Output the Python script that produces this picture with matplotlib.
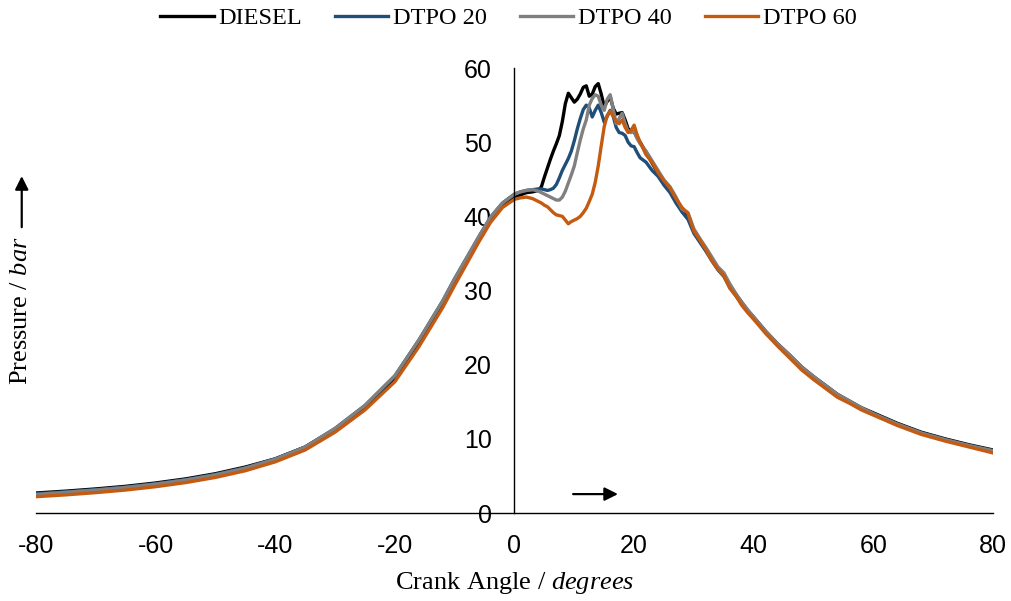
import matplotlib
matplotlib.use("Agg")
import matplotlib.pyplot as plt

plt.rcParams['mathtext.fontset'] = 'custom'
plt.rcParams['mathtext.rm'] = 'Liberation Serif'
plt.rcParams['mathtext.it'] = 'Liberation Serif:italic'
plt.rcParams['axes.unicode_minus'] = False

angle = [-80, -75, -70, -65, -60, -55, -50, -45, -40, -35, -30, -25, -20, -16, -12, -10, -8, -6, -4, -2,
         0, 1, 2, 3, 4, 4.5, 5, 5.5, 6, 6.5, 7, 7.5, 8, 8.5, 9, 9.5, 10, 10.5, 11, 11.5, 12, 12.5, 13, 13.5,
         14, 14.5, 15, 15.5, 16, 16.5, 17, 17.5, 18, 18.5, 19, 19.5, 20, 20.5, 21,
         22, 23, 24, 25, 26, 27, 28, 29, 30, 31, 32, 33, 34, 35, 36, 37, 38, 39, 40,
         42, 44, 46, 48, 50, 52, 54, 56, 58, 60, 64, 68, 72, 76, 80]

diesel = [2.7, 2.95, 3.25, 3.6, 4.05, 4.6, 5.3, 6.2, 7.3, 8.9, 11.3, 14.3, 18.2, 22.9, 28.2, 31.2, 34.1, 37.0, 39.6, 41.5,
          42.5, 42.9, 43.2, 43.3, 43.5, 44.0, 45.3, 46.5, 47.7, 48.8, 49.8, 50.9, 52.8, 55.2, 56.6, 56.0, 55.4, 55.8,
          56.5, 57.4, 57.6, 56.2, 56.5, 57.5, 57.9, 56.5, 54.8, 55.5, 56.1, 54.6, 53.8, 53.9, 54.0, 53.0, 51.8, 51.5,
          51.4, 50.6, 50.0,
          48.6, 47.2, 45.8, 44.6, 43.6, 42.2, 40.7, 39.9, 38.0, 36.8, 35.6, 34.3, 33.0, 32.1, 30.7, 29.5, 28.4, 27.3, 26.4,
          24.5, 22.8, 21.3, 19.7, 18.4, 17.2, 16.0, 15.1, 14.2, 13.5, 12.1, 10.9, 10.0, 9.2, 8.5]

dtpo20 = [2.6, 2.85, 3.15, 3.5, 3.95, 4.5, 5.2, 6.1, 7.3, 8.9, 11.4, 14.5, 18.5, 23.3, 28.6, 31.6, 34.4, 37.2, 39.9, 41.8,
          43.0, 43.3, 43.5, 43.6, 43.7, 43.7, 43.6, 43.5, 43.6, 43.8, 44.3, 45.2, 46.2, 47.0, 47.8, 48.8, 50.2, 51.8,
          53.2, 54.4, 55.0, 54.6, 53.4, 54.3, 55.0, 54.0, 52.7, 53.5, 54.3, 53.5, 52.0, 51.3, 51.2, 50.9, 50.0, 49.5,
          49.4, 48.6, 47.9,
          47.3, 46.2, 45.4, 44.2, 43.2, 41.8, 40.6, 39.6, 37.7, 36.5, 35.3, 34.0, 32.8, 31.9, 30.4, 29.3, 28.2, 27.2, 26.3,
          24.4, 22.7, 21.2, 19.6, 18.3, 17.1, 15.9, 15.0, 14.1, 13.4, 12.0, 10.8, 9.9, 9.1, 8.4]

dtpo40 = [2.5, 2.8, 3.1, 3.45, 3.9, 4.45, 5.15, 6.05, 7.25, 8.9, 11.4, 14.5, 18.5, 23.3, 28.6, 31.6, 34.4, 37.2, 39.9, 41.8,
          43.0, 43.3, 43.5, 43.6, 43.4, 43.2, 43.0, 42.8, 42.6, 42.4, 42.2, 42.2, 42.6, 43.4, 44.5, 45.6, 46.8, 48.6,
          50.3, 51.8, 53.0, 55.0, 55.9, 56.4, 56.2, 55.0, 54.3, 55.8, 56.4, 54.5, 52.5, 53.2, 53.9, 52.5, 51.5, 51.3,
          51.5, 50.5, 49.8,
          48.8, 47.5, 46.2, 44.9, 44.0, 42.6, 41.0, 40.5, 38.3, 37.0, 35.8, 34.5, 33.2, 32.4, 30.9, 29.6, 28.4, 27.4, 26.4,
          24.5, 22.8, 21.3, 19.7, 18.4, 17.2, 16.0, 15.1, 14.2, 13.4, 12.0, 10.8, 9.9, 9.1, 8.4]

dtpo60 = [2.2, 2.45, 2.75, 3.1, 3.55, 4.1, 4.8, 5.7, 6.9, 8.5, 10.9, 13.9, 17.7, 22.4, 27.7, 30.7, 33.6, 36.5, 39.2, 41.2,
          42.3, 42.5, 42.6, 42.4, 42.0, 41.8, 41.5, 41.3, 40.9, 40.5, 40.2, 40.1, 40.0, 39.5, 39.0, 39.3, 39.5, 39.7,
          40.0, 40.5, 41.1, 42.0, 43.0, 44.6, 46.8, 49.5, 52.1, 53.6, 54.2, 53.5, 52.8, 52.5, 53.0, 52.0, 51.3, 51.6,
          52.3, 51.0, 50.0,
          48.3, 47.3, 45.9, 44.8, 43.8, 42.4, 41.2, 40.4, 38.0, 36.8, 35.5, 34.0, 32.9, 32.0, 30.3, 29.3, 28.0, 27.0, 26.1,
          24.2, 22.5, 20.9, 19.3, 18.0, 16.8, 15.6, 14.8, 13.9, 13.2, 11.8, 10.6, 9.7, 8.9, 8.1]

series_names = ['DIESEL', 'DTPO 20', 'DTPO 40', 'DTPO 60']
series_colors = ['#000000', '#1F4E79', '#808080', '#C55A11']
series_values = [diesel, dtpo20, dtpo40, dtpo60]

x_ticks = [-80, -60, -40, -20, 0, 20, 40, 60, 80]
y_ticks = [0, 10, 20, 30, 40, 50, 60]

fig = plt.figure(figsize=(10.11, 6.01), dpi=100)
ax = fig.add_axes([0.0356, 0.1464, 0.9466, 0.7404])

for name, col, vals in zip(series_names, series_colors, series_values):
    assert len(vals) == len(angle)
    ax.plot(angle, vals, color=col, lw=2.4, label=name, solid_joinstyle='round')

ax.set_xlim(-80, 80)
ax.set_ylim(0, 60)
ax.set_xticks(x_ticks)
ax.set_yticks(y_ticks)
ax.spines['left'].set_position(('data', 0))
ax.spines['right'].set_visible(False)
ax.spines['top'].set_visible(False)
ax.spines['left'].set_linewidth(1.0)
ax.spines['bottom'].set_linewidth(1.0)
ax.tick_params(axis='both', length=0, labelsize=18)
ax.tick_params(axis='y', pad=16.5)
ax.tick_params(axis='x', pad=15)
for lab in ax.get_xticklabels() + ax.get_yticklabels():
    lab.set_fontfamily('Liberation Sans')

ax.set_xlabel('Crank Angle / $\\mathit{degrees}$', fontfamily='Liberation Serif', fontsize=19, labelpad=9)

# y label with arrow
fig.text(0.021, 0.4825, 'Pressure / $\\mathit{bar}$', rotation=90, fontfamily='Liberation Serif',
         fontsize=19, ha='center', va='center')
fig.add_artist(matplotlib.patches.FancyArrowPatch((0.0215, 0.622), (0.0215, 0.707),
               transform=fig.transFigure, arrowstyle='-|>', mutation_scale=20, color='black', lw=1.6,
               shrinkA=0, shrinkB=0))

# x arrow
ax.annotate('', xy=(17.3, 2.55), xytext=(9.8, 2.55),
            arrowprops=dict(arrowstyle='-|>', mutation_scale=20, color='black', lw=1.6,
                            shrinkA=0, shrinkB=0))

leg = fig.legend(loc='upper center', bbox_to_anchor=(0.503, 1.024), ncol=4, frameon=False,
                 prop={'family': 'Liberation Serif', 'size': 17.5}, handlelength=2.2,
                 handletextpad=0.2, columnspacing=1.35)

fig.savefig('out.png', dpi=100)
